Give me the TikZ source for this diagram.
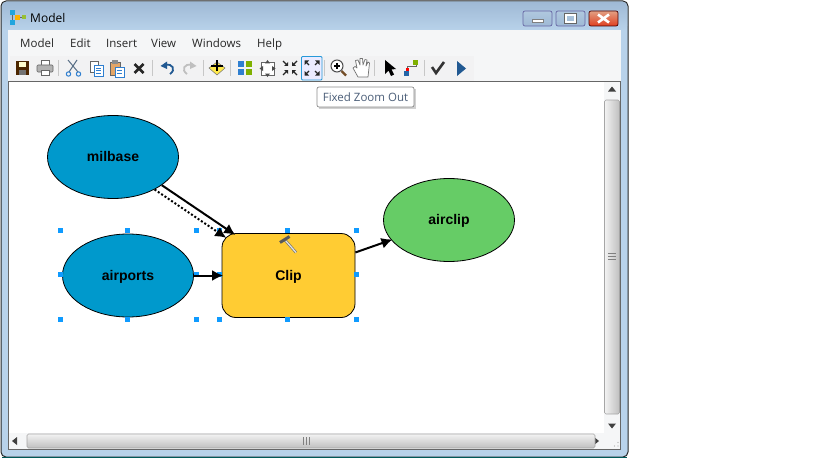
\documentclass[tikz,border=0pt]{standalone}
\usepackage{fontspec}
\setmainfont{Liberation Sans}
\newfontfamily\uifont{Open Sans}
\usetikzlibrary{arrows.meta,shapes.geometric}
\definecolor{aerotop}{HTML}{9FB9D5}
\definecolor{aerobot}{HTML}{B8D2EA}
\definecolor{menubg}{HTML}{F5F6F7}
\definecolor{barbg}{HTML}{F2F2F3}
\definecolor{inputblue}{HTML}{0099CC}
\definecolor{toolyellow}{HTML}{FFCC33}
\definecolor{outgreen}{HTML}{66CC66}
\definecolor{handleblue}{HTML}{0F9BFF}
\definecolor{tipink}{HTML}{4B5E78}
\definecolor{iconblue}{HTML}{2F7FD0}
\definecolor{icongreen}{HTML}{7FB000}
\definecolor{icongrey}{HTML}{7C8794}
\tikzset{
 x=1pt,y=-1pt,
 inputnode/.style={ellipse,draw=black,line width=.8pt,fill=inputblue,minimum width=131pt,minimum height=83pt,inner sep=0pt,text height=11.5pt,text depth=2pt,font=\bfseries\fontsize{14}{16}\selectfont},
 outputnode/.style={inputnode,fill=outgreen},
 toolnode/.style={rectangle,rounded corners=14pt,draw=black,line width=.8pt,fill=toolyellow,minimum width=133pt,minimum height=84pt,inner sep=0pt,text height=11.5pt,text depth=2pt,font=\bfseries\fontsize{14}{16}\selectfont},
 flow/.style={line width=2pt,shorten >=-1.5pt,-{Latex[length=11pt,width=11pt]}},
 flowdot/.style={line width=2pt,dash pattern=on 2pt off 2pt,shorten >=-1.5pt,-{Latex[length=11pt,width=11pt]}},
 handle/.style={fill=handleblue,draw=none,minimum size=5pt,inner sep=0pt,rectangle},
 menuitem/.style={anchor=base west,inner sep=0pt,font=\uifont\fontsize{11.5}{14}\selectfont,text=black!85},
 sep/.style={draw=black!22,line width=.8pt},
 capbtn/.style={draw=black!60!blue!60,rounded corners=2pt,line width=.7pt},
}
\begin{document}
\begin{tikzpicture}
\useasboundingbox (0,0) rectangle (816,460);
\fill[white] (0,0) rectangle (816,460);
% window frame
\fill[aerobot,draw=black!85,line width=1pt,rounded corners=5pt] (1,1) rectangle (628,457);
\shade[top color=aerotop,bottom color=aerobot,rounded corners=4pt] (2,2) rectangle (627,30);
\draw[teal!70!black,line width=.8pt] (2,457) -- (627,457);
\fill[menubg] (8,30) rectangle (621,81);
\fill[barbg] (10,56) rectangle (474,81);
\fill[white] (9,81) rectangle (620,449);
\draw[black!60,line width=.8pt] (8.5,81.5) -- (620.5,81.5) -- (620.5,449.5) -- (8.5,449.5) -- cycle;
% caption
\node[anchor=base west,inner sep=0pt,font=\uifont\fontsize{12}{14}\selectfont] (title) at (30,23) {Model};
\fill[iconblue!70!cyan] (10,10) rectangle (15,15); \fill[iconblue!70!cyan] (10,20) rectangle (15,25);
\fill[icongreen!80] (22,15.5) rectangle (26,19.5); \fill[orange!60!yellow] (15,15) rectangle (20,20);
\draw[black!60,line width=.5pt] (12,15) -- (12,20) (20,17.5) -- (22,17.5);
% caption buttons
\shade[capbtn,top color=black!5!aerobot,bottom color=aerotop] (523,11) rectangle (552,26);
\fill[white,draw=black!50,line width=.3pt] (532,19.5) rectangle (543,22.5);
\shade[capbtn,top color=black!5!aerobot,bottom color=aerotop] (556,11) rectangle (585,26);
\draw[white,line width=1.8pt] (566,15) rectangle (575,22);
\draw[black!60,line width=.5pt] (564.5,13.5) rectangle (576.5,23.5);
\shade[capbtn,draw=red!30!black,top color=red!25!brown!60!white,bottom color=red!50!brown] (589,11) rectangle (618,26);
\draw[white,line width=2.6pt] (598,14.5) -- (609,22.5) (609,14.5) -- (598,22.5);
% menu
\node[menuitem] (m1) at (20,47.5) {Model};
\node[menuitem] (m2) at (70,47.5) {Edit};
\node[menuitem] (m3) at (106,47.5) {Insert};
\node[menuitem] (m4) at (151,47.5) {View};
\node[menuitem] (m5) at (192,47.5) {Windows};
\node[menuitem] (m6) at (257,47.5) {Help};
% separators
\foreach \s in {58,152,203,230,324,374,424} \draw[sep] (\s,60) -- (\s,76);
% save
\fill[black!70!orange] (16,61) rectangle (29,75);
\fill[white!80!yellow] (19,62) rectangle (26,67);
\fill[black!55] (19,70) rectangle (26,75);
% print
\fill[white,draw=black!60,line width=.6pt] (41,60) rectangle (49,66);
\fill[black!30,draw=black!60,line width=.6pt,rounded corners=1pt] (37,65) rectangle (53,72);
\fill[white,draw=black!60,line width=.6pt] (41,70) rectangle (49,75);
% scissors
\draw[iconblue!40!black!70,line width=1pt] (68,60) -- (78,72) (77,60) -- (69,72);
\draw[iconblue,line width=1pt] (68.5,74) circle (2.2) (78.5,74) circle (2.2);
% copy
\fill[white,draw=black!60,line width=.6pt] (90,61) rectangle (98,72);
\fill[white,draw=iconblue,line width=.7pt] (94,65) rectangle (103,76);
\draw[iconblue,line width=.5pt] (96,68) -- (101,68) (96,70.5) -- (101,70.5) (96,73) -- (101,73);
% paste
\fill[orange!40!brown!70,draw=black!60,line width=.5pt] (110,62) rectangle (120,75);
\fill[black!45] (112,60) rectangle (118,64);
\fill[white,draw=iconblue,line width=.7pt] (115,67) rectangle (124,77);
\draw[iconblue,line width=.5pt] (117,70) -- (122,70) (117,73) -- (122,73);
% delete
\draw[black!85,line width=2.5pt] (134.5,64) -- (143.5,73) (143.5,64) -- (134.5,73);
% undo, redo
\draw[iconblue!70!black,line width=1.8pt] (170,74) .. controls (176,70) and (173,63) .. (165,65);
\fill[iconblue!70!black] (160.5,66) -- (167,61.5) -- (167,69) -- cycle;
\draw[black!25,line width=1.8pt] (187,74) .. controls (181,70) and (184,63) .. (192,65);
\fill[black!25] (196.5,66) -- (190,61.5) -- (190,69) -- cycle;
% add data
\fill[orange!25!yellow!70!white,draw=black!55,line width=.5pt] (209,68) -- (217,62) -- (225,68) -- (217,75) -- cycle;
\draw[black,line width=2pt] (217,60.5) -- (217,71) (211,66) -- (223,66);
% four squares
\fill[iconblue] (238,61) rectangle (244,67);
\fill[icongreen] (246,61) rectangle (252,67);
\fill[iconblue] (238,69) rectangle (244,75);
\fill[icongreen] (246,69) rectangle (252,75);
% full extent
\draw[black!60,line width=.7pt,fill=white] (261,62) rectangle (274,75);
\fill[black!70] (267.5,60) -- (270,63.5) -- (265,63.5) -- cycle (267.5,77) -- (270,73.5) -- (265,73.5) -- cycle (259.5,68.5) -- (263,66) -- (263,71) -- cycle (275.5,68.5) -- (272,66) -- (272,71) -- cycle;
% fixed zoom in (arrows in)
\begin{scope}[black!85,line width=1.2pt]
\draw (283,61) -- (287,65); \fill (288,66) -- (288,62) -- (284,66) -- cycle;
\draw (297,61) -- (293,65); \fill (292,66) -- (292,62) -- (296,66) -- cycle;
\draw (283,75) -- (287,71); \fill (288,70) -- (288,74) -- (284,70) -- cycle;
\draw (297,75) -- (293,71); \fill (292,70) -- (292,74) -- (296,70) -- cycle;
\end{scope}
% fixed zoom out, highlighted
\fill[blue!8!white,draw=iconblue!80!cyan,line width=.8pt,rounded corners=1pt] (301.5,56.5) rectangle (322,80);
\begin{scope}[black!85,line width=1.2pt]
\draw (309,65) -- (306,62); \fill (304.5,60.5) -- (304.5,65) -- (309,60.5) -- cycle;
\draw (315,65) -- (318,62); \fill (319.5,60.5) -- (319.5,65) -- (315,60.5) -- cycle;
\draw (309,71) -- (306,74); \fill (304.5,75.5) -- (304.5,71) -- (309,75.5) -- cycle;
\draw (315,71) -- (318,74); \fill (319.5,75.5) -- (319.5,71) -- (315,75.5) -- cycle;
\end{scope}
% magnifier
\draw[black!70,line width=1pt,fill=white] (337,66) circle (6);
\draw[black,line width=1.2pt] (334,66) -- (340,66) (337,63) -- (337,69);
\draw[brown!60!black,line width=2.2pt] (341.5,71) -- (346,75.5);
% hand
\draw[black!55,fill=white,line width=.7pt,line join=round] (358,77) -- (353,68) -- (355,66.5) -- (357,68) -- (355.5,60.5) -- (358,60) -- (360,65) -- (360,58.5) -- (362.5,58.5) -- (363,65) -- (365,59.5) -- (367,60) -- (366,66) -- (368,62) -- (369.5,63) -- (368,77) -- cycle;
% pointer
\fill[black] (385,60) -- (385,74) -- (388.5,70.5) -- (391,76) -- (394,74.5) -- (391.5,69.5) -- (396,69) -- cycle;
% connect
\draw[black!60,line width=.7pt] (407,70) -- (407,66) -- (416,66) -- (416,64);
\fill[red] (405.5,68) rectangle (408.5,71);
\fill[iconblue!80!black] (404,71) rectangle (409,76);
\fill[icongreen] (413,60) rectangle (418,65);
% check
\draw[black!80,line width=2.6pt] (432,67) -- (436,73) -- (444,62);
% run
\fill[iconblue!70!black] (457,61) -- (466,68.5) -- (457,76) -- cycle;
% diagram
\node[inputnode] (milbase) at (113,157) {milbase};
\node[inputnode] (airports) at (128,275.5) {airports};
\node[toolnode] (clip) at (288.5,275.5) {Clip};
\node[outputnode] (airclip) at (449,220) {airclip};
\foreach \hx/\hy/\hn in {60/230/a,127/230/b,196/230/c,219/230/d,287/230/e,356/230/f,60/274/g,196/274/h,219/274/i,356/274/j,60/319/k,127/319/l,196/319/m,219/319/n,287/319/o,356/319/p}
 \node[handle] (h\hn) at (\hx,\hy) {};
\coordinate (tipa) at (234,234);
\coordinate (tipb) at (225,237);
\draw[flow] (milbase.-30) -- (tipa);
\draw[flowdot] (milbase.-38) -- (tipb);
\draw[flow] (airports.east) -- (clip.west);
\draw[flow] (clip.19) -- (airclip.199);
% hammer
\draw[black!55,line width=2.6pt] (285,240) -- (296,252.5);
\draw[white!90!black,line width=1.2pt] (285,240) -- (296,252.5);
\draw[black!65,line width=3pt] (280,242.5) -- (289.5,236.5);
% tooltip
\fill[black!18] (319,89) rectangle (416,109);
\node[draw=black!45,fill=white,rounded corners=2pt,line width=.7pt,minimum width=97pt,minimum height=20pt,inner sep=0pt,text=tipink,font=\uifont\fontsize{11.5}{14}\selectfont] (tip) at (365.5,97) {Fixed Zoom Out};
% vertical scrollbar
\fill[menubg] (604,82) rectangle (620,449);
\fill[black!75] (612,86.5) -- (616,91.5) -- (608,91.5) -- cycle;
\fill[black!75] (612,428.5) -- (616,423.5) -- (608,423.5) -- cycle;
\shade[left color=white!95!black,right color=black!25,draw=black!35,rounded corners=1.5pt,line width=.6pt] (604.5,100) rectangle (619.5,414);
\draw[black!50,line width=.6pt] (608,253) -- (616,253) (608,256) -- (616,256) (608,259) -- (616,259);
% horizontal scrollbar
\fill[menubg] (9,433) rectangle (620,449);
\fill[black!75] (12,441) -- (17,437) -- (17,445) -- cycle;
\fill[black!75] (599,441) -- (594,437) -- (594,445) -- cycle;
\shade[top color=white!95!black,bottom color=black!25,draw=black!35,rounded corners=1.5pt,line width=.6pt] (27,434) rectangle (595,448);
\draw[black!50,line width=.6pt] (303,437) -- (303,445) (306,437) -- (306,445) (309,437) -- (309,445);
\fill[black!35] (618,446) circle (.7) (614.5,446) circle (.7) (618,442.5) circle (.7);
\end{tikzpicture}
\end{document}
